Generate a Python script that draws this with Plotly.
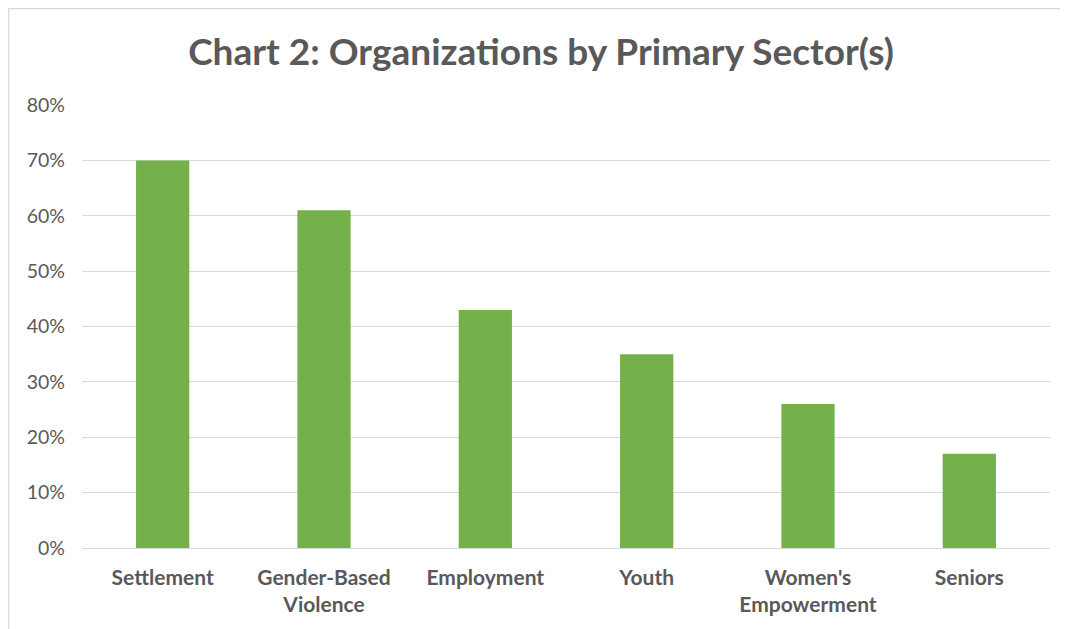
import plotly.graph_objects as go

categories = ["Settlement", "Gender-Based<br>Violence", "Employment", "Youth", "Women's<br>Empowerment", "Seniors"]
values = [0.70, 0.61, 0.43, 0.35, 0.26, 0.17]
y_ticks = [0, 0.1, 0.2, 0.3, 0.4, 0.5, 0.6, 0.7, 0.8]
y_tick_labels = ["0%", "10%", "20%", "30%", "40%", "50%", "60%", "70%", "80%"]

OFF = 8  # page offset of the figure (body margin)
PAGE_W, PAGE_H = 1068, 629
W, H = PAGE_W - OFF, PAGE_H - OFF
L, T = 82 - OFF, 105 - OFF
R = W - (1050 - OFF)
B = H - (548 - OFF)
pw, ph = W - L - R, H - T - B

text_color = "#595959"
font_family = "Lato, 'Open Sans', sans-serif"

fig = go.Figure(go.Bar(
    x=categories, y=values, marker=dict(color="#74B14B", line=dict(width=0)),
    width=0.33,
))

fig.update_layout(
    width=W, height=H,
    margin=dict(l=L, r=R, t=T, b=B, autoexpand=False),
    paper_bgcolor="white", plot_bgcolor="white",
    showlegend=False,
    title=dict(text="<b>Chart 2: Organizations by Primary Sector(s)</b>",
               x=(541 - OFF) / W, xanchor="center", xref="container",
               y=1 - (52 - OFF) / H, yanchor="middle", yref="container",
               font=dict(family=font_family, size=37, color=text_color)),
    font=dict(family=font_family, color=text_color),
    xaxis=dict(showgrid=False, showline=False, zeroline=False, ticks="",
               tickfont=dict(size=21, color=text_color, weight="bold"),
               ticklabelstandoff=15, fixedrange=True),
    yaxis=dict(range=[0, 0.8], tickvals=y_ticks, ticktext=y_tick_labels,
               showgrid=True, gridcolor="#d9d9d9", gridwidth=1,
               zeroline=True, zerolinecolor="#d9d9d9", zerolinewidth=1,
               showline=False, ticks="", ticklabelstandoff=16,
               tickfont=dict(size=19.5, color=text_color), fixedrange=True),
    bargap=0.67,
    shapes=[dict(type="rect", xref="paper", yref="paper",
                 x0=(0.5 - L) / pw, x1=(W + 5 - L) / pw,
                 y0=-(H + 5 - (T + ph)) / ph, y1=1 + (T - 0.5) / ph,
                 line=dict(color="#d9d9d9", width=1.5), fillcolor="rgba(0,0,0,0)",
                 layer="below")],
)

fig.write_html("out.html")
